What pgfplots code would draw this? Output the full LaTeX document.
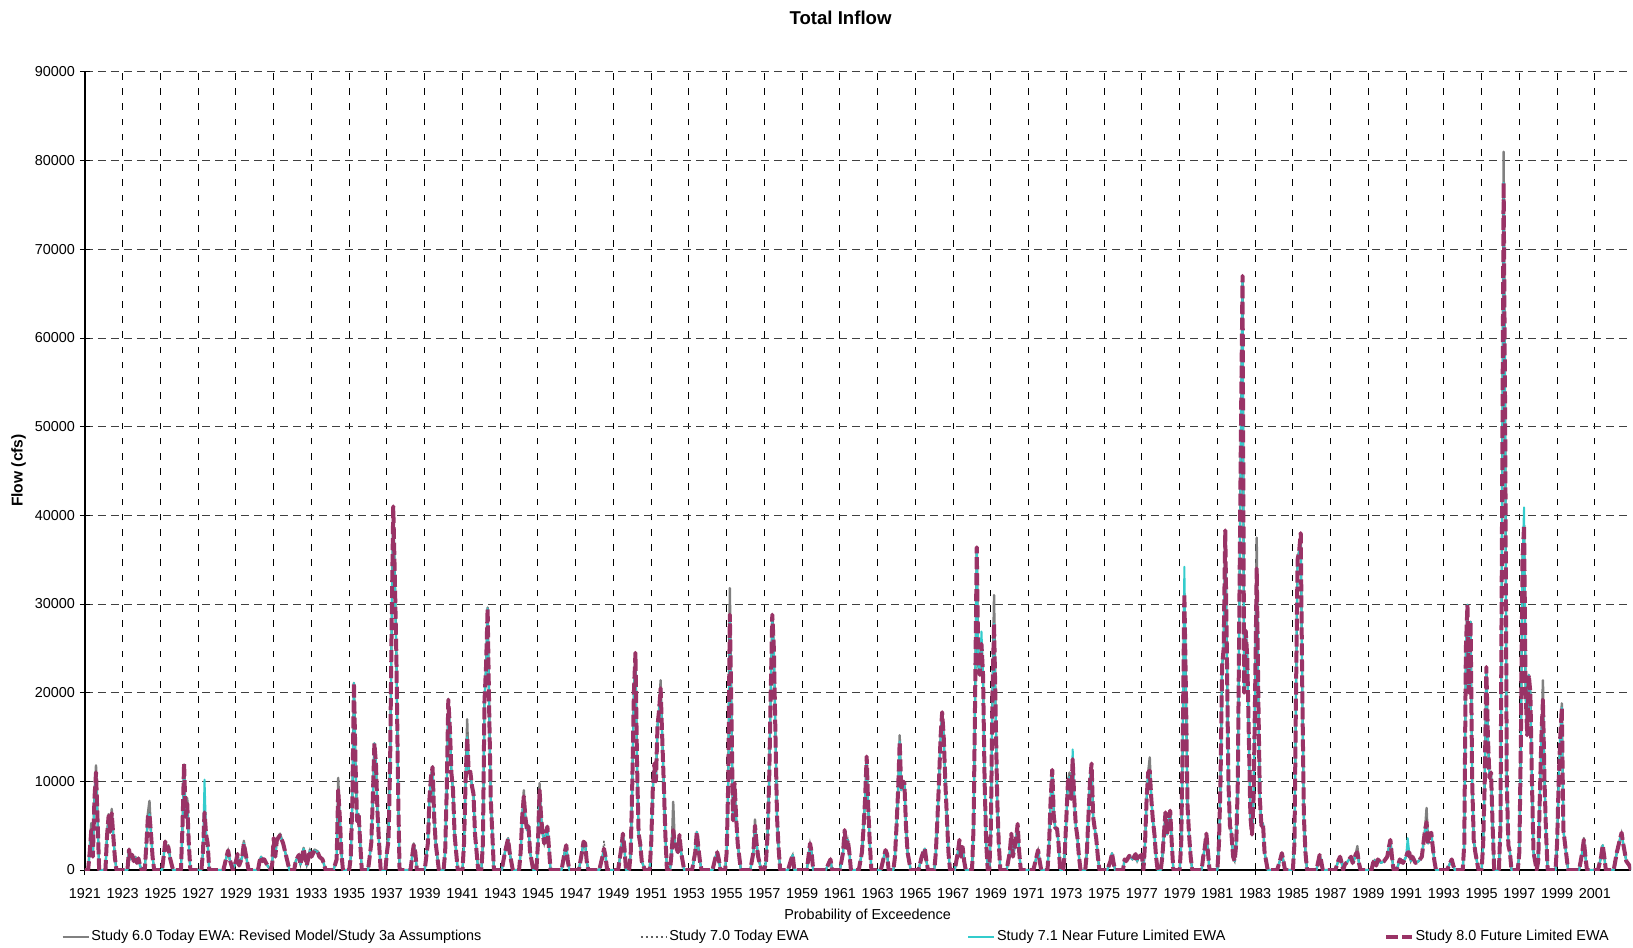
\documentclass[border=0pt]{standalone}
\usepackage{fontspec}
\setmainfont{Liberation Sans}
\usepackage{pgfplots}
\usepackage{pgfplotstable}
\pgfplotsset{compat=1.18}
\definecolor{cgray}{HTML}{808080}
\definecolor{cdot}{HTML}{606060}
\definecolor{ccyan}{HTML}{33CCCC}
\definecolor{cmag}{HTML}{993366}
\pgfplotstableread{
k s6 s7 s71 s8
0 0 0 0 0
2 0 0 0 0
3 2500 2000 2000 2000
4 5300 4500 4500 4500
5 1500 1500 1500 1500
6 8500 8000 8000 8000
7 11800 11200 11000 11000
8 6000 5500 5500 5500
9 0 0 0 0
13 0 0 0 0
14 4000 3800 3800 3800
15 6300 6100 6100 6100
16 4500 4300 4300 4300
17 6900 6400 6400 6400
18 4000 3800 3800 3800
19 1500 1400 1400 1400
20 0 0 0 0
27 0 0 0 0
28 2400 2300 2300 2300
29 1200 1200 1200 1200
30 1800 1700 1700 1700
31 1000 1000 1000 1000
32 1500 1400 1400 1400
33 800 800 800 800
34 1400 1300 1300 1300
35 500 500 500 500
36 0 0 0 0
38 0 0 0 0
39 3000 2800 2800 2800
40 6400 6000 6000 6000
41 7800 6300 6300 6300
42 4200 4000 4000 4000
43 1500 1400 1400 1400
44 0 0 0 0
49 0 0 0 0
50 1500 1500 1500 1500
51 3300 3200 3200 3200
52 2400 2300 2300 2300
53 2800 2600 2600 2600
54 1500 1400 1400 1400
56 0 0 0 0
61 0 0 0 0
62 5000 5000 5000 5000
63 11500 12000 11800 12000
64 6000 6000 6000 6000
65 8100 7500 7500 7500
66 3000 3000 3000 3000
67 0 0 0 0
74 0 0 0 0
75 2000 2000 2000 2000
76 6500 6500 10200 6500
77 4000 4000 4000 4000
78 3000 3000 3000 3000
79 0 0 0 0
88 0 0 0 0
90 1500 1500 1500 1500
91 2300 2200 2200 2200
92 1200 1200 1200 1200
94 0 0 0 0
96 1000 1000 1000 1000
97 1900 1800 1800 1800
98 500 500 500 500
100 1500 1500 1500 1500
101 3300 3000 3000 3000
102 2000 2000 2000 2000
104 0 0 0 0
110 0 0 0 0
111 1000 1000 1000 1000
112 1500 1500 1500 1500
113 1000 1000 1000 1000
114 1200 1200 1200 1200
116 500 500 500 500
118 0 0 0 0
119 600 600 600 600
120 3600 3600 3600 3600
121 1500 1500 1500 1500
122 3500 3400 3400 3400
124 4100 3900 3900 3900
126 3000 3000 3000 3000
128 1500 1500 1500 1500
130 0 0 0 0
133 0 0 0 0
134 1000 1000 1000 1000
136 1700 1700 1700 1700
137 600 600 600 600
139 2500 2400 2400 2400
140 1600 1500 1500 1500
141 500 500 500 500
143 2300 2200 2200 2200
144 1500 1500 1500 1500
146 2300 2200 2200 2200
148 2100 2000 2000 2000
149 1500 1500 1500 1500
151 1200 1200 1200 1200
153 0 0 0 0
158 0 0 0 0
160 1200 1200 1200 1200
161 10400 9000 9000 9000
162 6000 6000 6000 6000
163 2000 2000 2000 2000
164 0 0 0 0
168 0 0 0 0
169 1500 1500 1500 1500
170 8000 8000 8000 8000
171 21100 21100 21100 21100
172 12000 12000 12000 12000
173 5500 5500 5500 5500
174 6300 6300 6300 6300
175 3000 3000 3000 3000
176 0 0 0 0
180 0 0 0 0
182 3000 3000 3000 3000
183 8000 8000 8000 8000
184 14300 14300 14300 14300
185 12000 12000 12000 12000
186 6400 6400 6400 6400
187 3000 3000 3000 3000
188 0 0 0 0
191 0 0 0 0
192 2000 2000 2000 2000
193 6300 3400 3400 3400
194 12000 12000 12000 12000
195 28000 28000 28000 28000
196 41000 41000 41000 41000
197 33000 33000 33000 33000
198 24000 24000 24000 24000
199 10000 10000 10000 10000
200 0 0 0 0
207 0 0 0 0
208 1500 1500 1500 1500
209 3000 2800 2800 2800
210 2000 2000 2000 2000
211 0 0 0 0
216 0 0 0 0
218 3000 3000 3000 3000
219 8000 8000 8000 8000
220 10500 10500 10500 10500
221 11700 11600 11600 11600
222 6000 6000 6000 6000
223 3000 3000 3000 3000
225 0 0 0 0
228 0 0 0 0
229 2000 2000 2000 2000
230 9000 9000 9000 9000
231 19300 19200 19200 19200
232 16000 16000 16000 16000
233 10900 10900 10900 10900
234 9000 9000 9000 9000
235 4000 4000 4000 4000
237 0 0 0 0
240 0 0 0 0
241 3000 3000 3000 3000
242 10000 10000 10000 10000
243 17000 15500 15000 15000
244 11000 11000 11000 11000
245 11100 11100 11100 11100
246 9500 9500 9500 9500
247 8600 8600 8600 8600
248 4000 4000 4000 4000
250 0 0 0 0
252 0 0 0 0
253 3000 3000 3000 3000
254 19000 19000 19000 19000
255 23000 23000 23000 23000
256 29600 29500 29500 29500
257 18000 18000 18000 18000
258 8000 8000 8000 8000
259 4000 4000 4000 4000
260 0 0 0 0
265 0 0 0 0
267 2000 2000 2000 2000
269 3600 3500 3500 3500
270 2000 2000 2000 2000
272 0 0 0 0
276 0 0 0 0
277 2000 2000 2000 2000
278 6000 6000 6000 6000
279 9000 8300 8300 8300
280 6000 6000 6000 6000
281 4500 4500 4500 4500
282 4900 4900 4900 4900
283 2000 2000 2000 2000
285 0 0 0 0
287 0 0 0 0
288 3000 3000 3000 3000
289 9800 9000 9000 9000
290 6000 6000 6000 6000
291 4100 4100 4100 4100
292 3000 3000 3000 3000
293 4000 4000 4000 4000
294 4900 4900 4900 4900
295 2500 2500 2500 2500
296 0 0 0 0
303 0 0 0 0
305 2000 2000 2000 2000
306 2800 2800 2800 2800
307 1000 1000 1000 1000
308 0 0 0 0
314 0 0 0 0
316 2000 2000 2000 2000
317 3200 3200 3200 3200
318 3000 3000 3000 3000
319 1000 1000 1000 1000
320 0 0 0 0
327 0 0 0 0
329 1500 1500 1500 1500
330 2400 3300 2400 2400
331 1500 1500 1500 1500
332 0 0 0 0
339 0 0 0 0
341 2500 2500 2500 2500
342 4100 4100 4100 4100
343 2500 2500 2500 2500
344 0 0 0 0
346 0 0 0 0
347 2000 2000 2000 2000
348 10000 10000 10000 10000
349 20000 20000 20000 20000
350 24500 24500 24500 24500
351 12000 12000 12000 12000
352 4100 4100 4100 4100
353 3000 3000 3000 3000
354 1000 1000 1000 1000
356 0 0 0 0
359 0 0 0 0
360 3000 3000 3000 3000
361 9000 9000 9000 9000
362 12000 12000 12000 12000
363 10000 10000 10000 10000
364 16200 16200 16200 16200
365 18000 18000 18000 18000
366 21400 20500 20500 20500
367 15000 15000 15000 15000
368 9800 9800 9800 9800
369 4000 4000 4000 4000
370 0 0 0 0
372 0 0 0 0
373 2000 2000 2000 2000
374 7700 4500 4500 4500
375 3000 3000 3000 3000
376 2500 2500 2500 2500
377 2000 2000 2000 2000
378 3950 3950 3950 3950
379 2000 2000 2000 2000
381 0 0 0 0
386 0 0 0 0
388 2000 2000 2000 2000
389 4300 4300 4300 4300
390 2500 2500 2500 2500
391 1000 1000 1000 1000
392 0 0 0 0
399 0 0 0 0
401 1500 1500 1500 1500
402 2000 2000 2000 2000
403 1200 1200 1200 1200
404 0 0 0 0
407 0 0 0 0
408 2000 2000 2000 2000
409 10000 10000 10000 10000
410 31800 28800 28800 28800
411 18000 18000 18000 18000
412 5600 5600 5600 5600
413 9800 9800 9800 9800
414 6000 6000 6000 6000
415 3000 3000 3000 3000
417 0 0 0 0
423 0 0 0 0
425 2000 2000 2000 2000
426 5700 5000 5000 5000
427 3000 3000 3000 3000
428 1500 1500 1500 1500
430 0 0 0 0
432 0 0 0 0
433 1000 1000 1000 1000
434 4000 4000 4000 4000
435 10000 10000 10000 10000
436 20000 20000 20000 20000
437 28800 28800 28800 28800
438 25000 25000 25000 25000
439 15300 15300 15300 15300
440 6000 6000 6000 6000
441 2500 2500 2500 2500
442 0 0 0 0
447 0 0 0 0
449 1200 1200 1200 1200
450 1700 1700 1700 1700
451 0 0 0 0
459 0 0 0 0
460 1500 1500 1500 1500
461 3000 3000 3000 3000
462 2000 2000 2000 2000
463 0 0 0 0
471 0 0 0 0
473 800 800 800 800
474 1200 1200 1200 1200
475 0 0 0 0
480 0 0 0 0
482 2000 2000 2000 2000
483 4500 4500 4500 4500
484 2500 2500 2500 2500
485 3400 3400 3400 3400
486 2000 2000 2000 2000
487 0 0 0 0
492 0 0 0 0
494 2000 2000 2000 2000
495 4700 4700 4700 4700
496 8000 8000 8000 8000
497 12800 12800 12800 12800
498 7000 7000 7000 7000
499 3000 3000 3000 3000
500 0 0 0 0
506 0 0 0 0
508 1500 1500 1500 1500
509 2250 2250 2250 2250
510 1800 1800 1800 1800
511 0 0 0 0
514 0 0 0 0
515 1500 1500 1500 1500
516 5000 5000 5000 5000
517 9000 9000 9000 9000
518 15200 14500 14500 14500
519 9000 9000 9000 9000
520 10000 10000 10000 10000
521 9800 9800 9800 9800
522 5000 5000 5000 5000
523 2000 2000 2000 2000
525 0 0 0 0
530 0 0 0 0
532 1500 1500 1500 1500
533 2000 2000 2000 2000
534 2400 2400 2400 2400
535 1000 1000 1000 1000
536 0 0 0 0
540 0 0 0 0
541 2000 2000 2000 2000
542 5800 5800 5800 5800
543 10000 10000 10000 10000
544 15000 15000 15000 15000
545 17800 17800 17800 17800
546 15000 15000 15000 15000
547 10000 10000 10000 10000
548 6000 6000 6000 6000
549 2000 2000 2000 2000
550 0 0 0 0
553 0 0 0 0
555 2000 2000 2000 2000
556 3400 3400 3400 3400
557 1500 1500 1500 1500
558 2600 2600 2600 2600
559 1000 1000 1000 1000
560 0 0 0 0
564 0 0 0 0
565 5000 5000 5000 5000
566 20000 20000 20000 20000
567 36400 36400 36400 36400
568 23000 23000 23000 23000
569 22000 22000 22000 22000
570 25500 25500 26900 25500
571 22000 22000 22000 22000
572 10000 10000 10000 10000
573 3000 3000 3000 3000
574 0 0 0 0
575 0 0 0 0
576 5000 5000 5000 5000
577 20000 20000 20000 20000
578 31000 27800 27800 27800
579 18000 18000 18000 18000
580 8000 8000 8000 8000
581 3000 3000 3000 3000
582 0 0 0 0
586 0 0 0 0
588 2000 2000 2000 2000
589 4100 4100 4100 4100
590 1500 1500 1500 1500
591 2500 2500 2500 2500
592 3500 3500 3500 3500
593 5200 5200 5200 5200
594 2000 2000 2000 2000
595 0 0 0 0
603 0 0 0 0
605 1500 1500 1500 1500
606 2250 2250 2250 2250
607 1000 1000 1000 1000
608 0 0 0 0
612 0 0 0 0
613 3000 3000 3000 3000
614 8000 8000 8000 8000
615 11300 11300 11300 11300
616 6000 6000 6000 6000
617 4700 4700 4700 4700
618 4700 4700 4700 4700
619 3000 3000 3000 3000
620 0 0 0 0
622 0 0 0 0
623 2000 2000 2000 2000
624 6000 6000 6000 6000
625 10000 10000 10000 10000
626 11000 10500 10500 10500
627 8000 8000 8000 8000
628 12500 12500 13600 12500
629 8000 8000 8000 8000
630 5000 5000 5000 5000
631 3700 3700 3700 3700
632 1500 1500 1500 1500
633 0 0 0 0
636 0 0 0 0
637 2000 2000 2000 2000
638 6000 6000 6000 6000
639 10000 10000 10000 10000
640 12000 12000 12000 12000
641 6000 6000 6000 6000
642 4700 4700 4700 4700
643 3500 3500 3500 3500
644 1500 1500 1500 1500
645 0 0 0 0
650 0 0 0 0
652 1000 1000 1000 1000
653 1900 1900 1900 1900
654 800 800 800 800
655 0 0 0 0
660 0 0 0 0
661 1200 1200 1200 1200
662 1000 1000 1000 1000
664 1600 1600 1600 1600
666 1200 1200 1200 1200
668 1800 1800 1800 1800
669 1000 1000 1000 1000
670 1500 1500 1500 1500
672 1700 1700 1700 1700
673 0 0 0 0
674 3000 3000 3000 3000
675 8000 8000 8000 8000
676 11000 11000 11000 11000
677 12700 11200 11200 11200
678 8000 8000 8000 8000
679 5600 5600 5600 5600
680 4000 4000 4000 4000
681 1500 1500 1500 1500
682 0 0 0 0
684 0 0 0 0
685 1500 1500 1500 1500
686 4000 4000 4000 4000
687 6500 6500 6500 6500
688 4000 4000 4000 4000
689 5500 5500 5500 5500
690 6700 6700 6700 6700
691 3000 3000 3000 3000
692 0 0 0 0
696 0 0 0 0
697 3000 3000 3000 3000
698 15000 15000 15000 15000
699 31200 31200 34200 31200
700 20000 20000 20000 20000
701 7300 7300 7300 7300
702 4000 4000 4000 4000
703 1500 1500 1500 1500
704 0 0 0 0
710 0 0 0 0
711 1500 1500 1500 1500
712 2500 2500 2500 2500
713 4100 4100 4100 4100
714 2000 2000 2000 2000
715 0 0 0 0
720 0 0 0 0
721 3000 3000 3000 3000
722 10000 10000 10000 10000
723 23000 23000 23000 23000
724 25000 25000 25000 25000
725 38300 38300 38300 38300
726 25000 25000 25000 25000
727 10000 10000 10000 10000
728 5000 5000 5000 5000
729 4000 4000 4000 4000
730 1500 1500 1500 1500
731 1000 1000 1000 1000
732 3000 3000 3000 3000
733 10000 10000 10000 10000
734 30000 30000 30000 30000
735 50000 50000 50000 50000
736 67000 67000 67000 67000
737 20000 20000 20000 20000
738 27000 27000 27000 27000
739 24000 24000 24000 24000
740 15000 15000 15000 15000
741 6000 6000 6000 6000
742 4000 4000 4000 4000
743 8000 8000 8000 8000
744 20000 20000 20000 20000
745 37500 34000 34000 34000
746 20000 20000 20000 20000
747 8000 8000 8000 8000
748 5000 5000 5000 5000
749 5200 5200 5200 5200
750 2000 2000 2000 2000
752 0 0 0 0
758 0 0 0 0
760 1200 1200 1200 1200
761 1900 1900 1900 1900
762 1000 1000 1000 1000
763 0 0 0 0
768 0 0 0 0
769 3000 3000 3000 3000
770 20000 20000 20000 20000
771 35000 35000 35000 35000
772 36000 36000 36000 36000
773 38000 38000 38000 38000
774 20000 20000 20000 20000
775 6000 6000 6000 6000
776 2000 2000 2000 2000
777 0 0 0 0
783 0 0 0 0
785 1700 1700 1700 1700
786 1000 1000 1000 1000
787 0 0 0 0
795 0 0 0 0
797 1100 1100 1100 1100
798 1500 1500 1500 1500
799 800 800 800 800
800 0 0 0 0
801 600 600 600 600
803 1000 1000 1000 1000
805 1500 1500 1500 1500
806 800 800 800 800
807 1200 1200 1200 1200
808 1800 1800 1800 1800
809 2700 2000 2000 2000
810 800 800 800 800
811 0 0 0 0
818 0 0 0 0
819 800 800 800 800
820 1100 1100 1100 1100
821 500 500 500 500
822 1200 1200 1200 1200
824 800 800 800 800
826 1000 1000 1000 1000
828 1500 1500 1500 1500
829 2500 2500 2500 2500
830 3400 3400 3400 3400
831 1500 1500 1500 1500
832 0 0 0 0
834 0 0 0 0
836 1200 1200 1200 1200
838 800 800 800 800
840 1500 1500 1500 1500
841 2000 2000 3600 2000
842 2000 2000 2000 2000
843 1000 1000 1000 1000
844 1500 1500 1500 1500
846 800 800 800 800
848 1000 1000 1000 1000
850 1500 1500 1500 1500
851 3000 3000 3000 3000
852 4500 4500 4500 4500
853 7000 5400 5400 5400
854 3000 3000 3000 3000
855 4000 4000 4000 4000
856 4200 4200 4200 4200
857 2500 2500 2500 2500
858 1000 1000 1000 1000
859 0 0 0 0
866 0 0 0 0
868 800 800 800 800
869 1200 1200 1200 1200
870 500 500 500 500
871 0 0 0 0
876 0 0 0 0
877 3000 3000 3000 3000
878 25000 25000 25000 25000
879 29900 29900 29900 29900
880 20000 20000 20000 20000
881 28000 28000 28000 28000
882 10000 10000 10000 10000
883 3400 3400 3400 3400
884 2000 2000 2000 2000
886 0 0 0 0
888 0 0 0 0
889 3000 3000 3000 3000
890 10000 10000 10000 10000
891 22900 22900 22900 22900
892 15000 15000 15000 15000
893 10400 10400 10400 10400
894 11000 11000 11000 11000
895 5000 5000 5000 5000
896 0 0 0 0
899 0 0 0 0
900 5000 5000 5000 5000
901 40000 40000 40000 40000
902 81000 77500 77500 77500
903 50000 50000 50000 50000
904 10000 10000 10000 10000
905 2800 2800 2800 2800
906 2000 2000 2000 2000
907 0 0 0 0
911 0 0 0 0
912 2000 2000 2000 2000
913 15000 15000 15000 15000
914 35000 35000 35000 35000
915 38900 38900 40900 38900
916 20000 20000 20000 20000
917 15200 15200 15200 15200
918 22000 22000 22000 22000
919 20000 20000 20000 20000
920 10000 10000 10000 10000
921 2000 2000 2000 2000
923 0 0 0 0
924 1000 1000 1000 1000
925 8000 8000 8000 8000
926 15000 15000 15000 15000
927 21400 19200 19200 19200
928 10000 10000 10000 10000
929 4000 4000 4000 4000
930 0 0 0 0
935 0 0 0 0
936 3000 3000 3000 3000
937 10000 10000 10000 10000
938 15000 15000 15000 15000
939 18800 18300 18300 18300
940 4500 4500 4500 4500
941 3000 3000 3000 3000
942 1500 1500 1500 1500
943 0 0 0 0
950 0 0 0 0
952 2000 2000 2000 2000
953 3600 3400 3400 3400
954 1500 1500 1500 1500
955 0 0 0 0
962 0 0 0 0
964 1500 1500 1500 1500
965 2800 2800 2800 2800
966 1500 1500 1500 1500
967 0 0 0 0
972 0 0 0 0
974 2000 2000 2000 2000
976 3500 3500 3500 3500
977 4200 4200 4200 4200
978 3000 3000 3000 3000
979 2000 2000 2000 2000
980 1000 1000 1000 1000
982 500 500 500 500
983 0 0 0 0
}\inflow
\begin{document}
\begin{tikzpicture}
\begin{axis}[
  name=ax,
  scale only axis, width=773pt, height=399pt,
  xmin=0, xmax=983, ymin=0, ymax=90000,
  xtick={0,24,...,960},
  xticklabels={1921,1923,1925,1927,1929,1931,1933,1935,1937,1939,1941,1943,1945,1947,1949,1951,1953,1955,1957,1959,1961,1963,1965,1967,1969,1971,1973,1975,1977,1979,1981,1983,1985,1987,1989,1991,1993,1995,1997,1999,2001},
  ytick={0,10000,...,90000},
  scaled y ticks=false,
  /pgf/number format/assume math mode=true,
  yticklabel style={/pgf/number format/fixed, /pgf/number format/1000 sep={}, xshift=1pt},
  xticklabel style={yshift=-3.4pt},
  ticklabel style={font=\fontsize{7.2}{8}\selectfont},
  axis lines=left, axis line style={-, black, line width=0.8pt},
  tick align=center, major tick length=5pt, tick style={black, line width=0.5pt},
  xmajorgrids, ymajorgrids,
  x grid style={black, line width=0.5pt, dash pattern=on 3.3pt off 4.3pt},
  y grid style={black!75, line width=0.5pt, dash pattern=on 4pt off 2.5pt},
  title={Total Inflow},
  title style={font=\bfseries\fontsize{9.3}{11}\selectfont, at={(axis description cs:0.4887,1.0532)}, anchor=center},
  xlabel={Probability of Exceedence},
  xlabel style={font=\fontsize{7.2}{8}\selectfont, at={(axis description cs:0.5062,-0.0579)}, anchor=center},
  ylabel={Flow (cfs)},
  ylabel style={font=\bfseries\fontsize{7.8}{9}\selectfont, at={(axis description cs:-0.043,0.5006)}, anchor=center},
  legend columns=4,
  legend image code/.code={\draw[#1] (0pt,0pt) -- (13pt,0pt);},
  legend style={font=\fontsize{7.2}{8}\selectfont, draw=none, fill=none, inner sep=0pt,
    at={(axis description cs:-0.0155,-0.0840)}, anchor=west,
    nodes={inner sep=0.8pt},
    /tikz/every even column/.append style={column sep=78.5pt}},
  legend cell align=left,
]
\addplot[cgray, line width=1.2pt, line join=round] table[x=k,y=s6]{\inflow};
\addlegendentry{Study 6.0 Today EWA: Revised Model/Study 3a Assumptions}
\addplot[cdot, line width=0.8pt, dash pattern=on 1pt off 1.5pt] table[x=k,y=s7]{\inflow};
\addlegendentry{Study 7.0 Today EWA}
\addplot[ccyan, line width=1pt, line join=round] table[x=k,y=s71]{\inflow};
\addlegendentry{Study 7.1 Near Future Limited EWA}
\addplot[cmag, line width=2pt, dash pattern=on 6pt off 2pt, line join=round] table[x=k,y=s8]{\inflow};
\addlegendentry{Study 8.0 Future Limited EWA}
\end{axis}
\pgfresetboundingbox
\path[use as bounding box] ([xshift=-42.5pt,yshift=-38.5pt]ax.south west) rectangle ([xshift=1pt,yshift=36pt]ax.north east);
\end{tikzpicture}
\end{document}
